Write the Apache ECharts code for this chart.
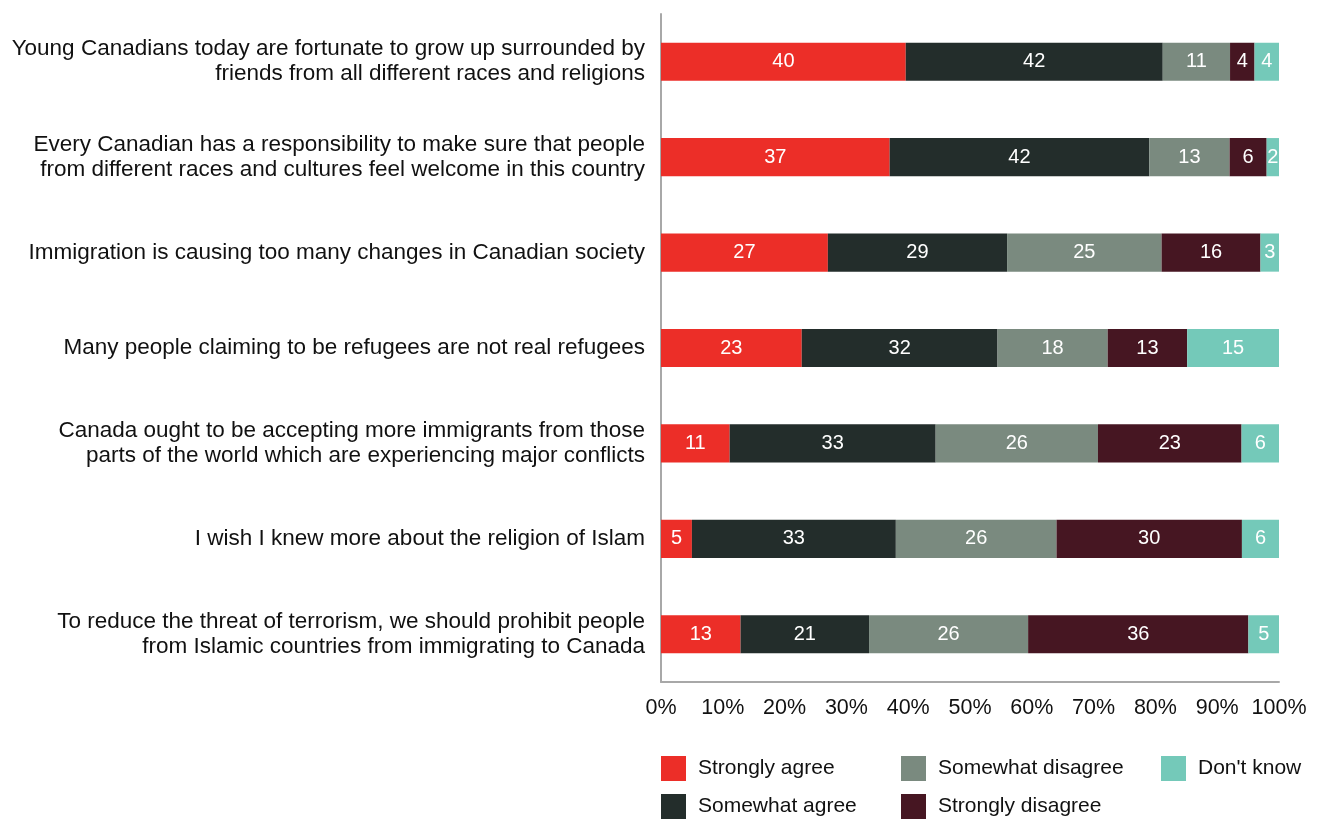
<!DOCTYPE html>
<html>
<head>
<meta charset="utf-8">
<script src="https://cdn.jsdelivr.net/npm/echarts@6/dist/echarts.min.js"></script>
<style>
  html, body { margin: 0; padding: 0; background: #fff; }
  #chart { width: 1321px; height: 819px; }
</style>
</head>
<body>
<div id="chart"></div>
<script>
// Survey statements (top to bottom)
const statements = [
  'Young Canadians today are fortunate to grow up surrounded by\nfriends from all different races and religions',
  'Every Canadian has a responsibility to make sure that people\nfrom different races and cultures feel welcome in this country',
  'Immigration is causing too many changes in Canadian society',
  'Many people claiming to be refugees are not real refugees',
  'Canada ought to be accepting more immigrants from those\nparts of the world which are experiencing major conflicts',
  'I wish I knew more about the religion of Islam',
  'To reduce the threat of terrorism, we should prohibit people\nfrom Islamic countries from immigrating to Canada'
];

// Response shares (%) per statement
const stronglyAgree    = [40, 37, 27, 23, 11, 5, 13];
const somewhatAgree    = [42, 42, 29, 32, 33, 33, 21];
const somewhatDisagree = [11, 13, 25, 18, 26, 26, 26];
const stronglyDisagree = [4, 6, 16, 13, 23, 30, 36];
const dontKnow         = [4, 2, 3, 15, 6, 6, 5];

const seriesNames = ['Strongly agree', 'Somewhat agree', 'Somewhat disagree', 'Strongly disagree', "Don't know"];
const seriesValues = [stronglyAgree, somewhatAgree, somewhatDisagree, stronglyDisagree, dontKnow];
const seriesColors = ['#EC2E28', '#232D2B', '#7A8A7F', '#461622', '#74C9B9'];

const xTicks = ['0%', '10%', '20%', '30%', '40%', '50%', '60%', '70%', '80%', '90%', '100%'];

// Each row is scaled to fill 100% of the bar; labels keep the reported figure
const rowTotals = statements.map((_, i) => seriesValues.reduce((s, arr) => s + arr[i], 0));

const FONT = '"Liberation Sans", Arial, Helvetica, sans-serif';

const series = seriesNames.map((name, k) => ({
  name,
  type: 'bar',
  stack: 'total',
  barWidth: '40%',
  itemStyle: { color: seriesColors[k] },
  label: {
    show: true,
    position: 'inside',
    color: '#fff',
    fontFamily: FONT,
    fontSize: 20,
    padding: [4, 0, 0, 0],
    formatter: p => String(p.data.raw)
  },
  emphasis: { disabled: true },
  data: seriesValues[k].map((v, i) => ({ value: v / rowTotals[i] * 100, raw: v }))
}));

// Legend laid out in three columns: agree pair, disagree pair, don't know
const legendSlots = [
  { left: 661, top: 756 },
  { left: 661, top: 794 },
  { left: 901, top: 756 },
  { left: 901, top: 794 },
  { left: 1161, top: 756 }
];
const legends = seriesNames.map((name, k) => ({
  left: legendSlots[k].left,
  top: legendSlots[k].top,
  padding: 0,
  itemWidth: 25,
  itemHeight: 25,
  icon: 'rect',
  selectedMode: false,
  data: [name],
  textStyle: { fontFamily: FONT, fontSize: 21, color: '#111', padding: [2, 0, 0, 7] }
}));

const option = {
  animation: false,
  backgroundColor: '#fff',
  grid: { left: 661, right: 42, top: 14, bottom: 137, containLabel: false },
  legend: legends,
  xAxis: {
    type: 'value',
    min: 0,
    max: 100,
    interval: 10,
    axisLine: { show: true, lineStyle: { color: '#a8a8a8', width: 2 } },
    axisTick: { show: false },
    splitLine: { show: false },
    axisLabel: {
      margin: 15,
      fontFamily: FONT,
      fontSize: 21.5,
      color: '#111',
      formatter: v => xTicks[Math.round(v / 10)]
    }
  },
  yAxis: {
    type: 'category',
    inverse: true,
    data: statements,
    axisLine: { show: true, lineStyle: { color: '#a8a8a8', width: 2 } },
    axisTick: { show: false },
    axisLabel: {
      margin: 16,
      fontFamily: FONT,
      fontSize: 22.5,
      lineHeight: 25,
      padding: [5, 0, 0, 0],
      color: '#111',
      align: 'right'
    }
  },
  series
};

const chart = echarts.init(document.getElementById('chart'), null, { renderer: 'canvas' });
chart.setOption(option);
</script>
</body>
</html>
